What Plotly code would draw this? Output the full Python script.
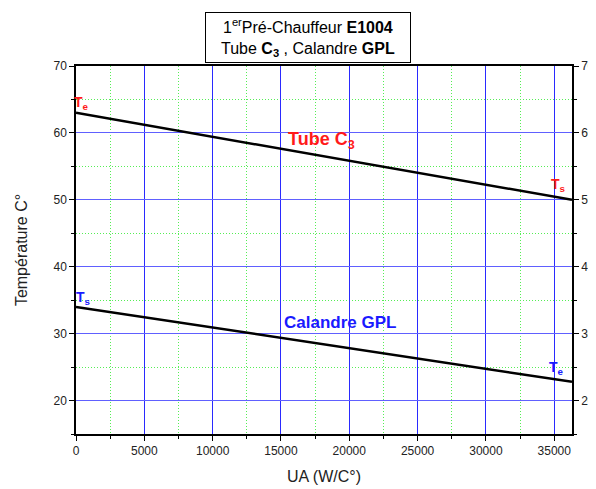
import plotly.graph_objects as go

ua = [0, 36300]
tube_c3 = [63.0, 50.0]
calandre_gpl = [34.0, 22.8]

x_ticks = [0, 5000, 10000, 15000, 20000, 25000, 30000, 35000]
x_tick_labels = ["0", "5000", "10000", "15000", "20000", "25000", "30000", "35000"]
y_ticks = [20, 30, 40, 50, 60, 70]
y_tick_labels = ["20", "30", "40", "50", "60", "70"]

fig = go.Figure()
fig.add_trace(go.Scatter(x=ua, y=tube_c3, mode="lines", line=dict(color="black", width=2.5), showlegend=False))
fig.add_trace(go.Scatter(x=ua, y=calandre_gpl, mode="lines", line=dict(color="black", width=2.5), showlegend=False))
fig.add_trace(go.Scatter(x=ua, y=tube_c3, mode="lines", line=dict(width=0), opacity=0, yaxis="y2", showlegend=False, hoverinfo="skip"))

font = dict(family="Arial, Liberation Sans, sans-serif", size=12, color="#222")

# page body has an 8px default margin, so the figure is 8px smaller
fig.update_layout(
    width=588, height=481,
    margin=dict(l=68, r=24, t=58, b=55),
    paper_bgcolor="white", plot_bgcolor="white",
    font=font,
    xaxis=dict(range=[0, 36300], tickvals=x_ticks, ticktext=x_tick_labels, ticks="outside", ticklen=5, tickcolor="black",
               showline=True, linecolor="black", linewidth=1.5, mirror=True, automargin=False,
               showgrid=True, gridcolor="#2a2aff", gridwidth=1, zeroline=False,
               minor=dict(dtick=2500, tick0=0, ticks="outside", ticklen=3, tickcolor="black",
                          showgrid=True, gridcolor="#55ee55", griddash="1px,2px", gridwidth=1),
               title=dict(text="UA (W/C°)", font=dict(size=16), standoff=14)),
    yaxis=dict(range=[15, 70], tickvals=y_ticks, ticktext=y_tick_labels, ticks="outside", ticklen=5, tickcolor="black",
               showline=True, linecolor="black", linewidth=1.5, automargin=False,
               showgrid=True, gridcolor="#6060ff", gridwidth=1, zeroline=False,
               minor=dict(dtick=5, tick0=15, ticks="outside", ticklen=3, tickcolor="black",
                          showgrid=True, gridcolor="#55ee55", griddash="1px,2px", gridwidth=1),
               title=dict(text="Température C°", font=dict(size=16), standoff=22)),
    yaxis2=dict(range=[15, 70], tickvals=y_ticks, ticktext=y_tick_labels, overlaying="y", side="right", ticks="outside",
                ticklen=5, tickcolor="black", showline=True, linecolor="black", linewidth=1.5,
                showgrid=False, zeroline=False, automargin=False,
                minor=dict(dtick=5, tick0=15, ticks="outside", ticklen=3, tickcolor="black")),
)

red = "#ff1a1a"
blue = "#1a1aff"
ann = [
    dict(x=420, y=64.4, text="<b>T<sub>e</sub></b>", font=dict(color=red, size=14)),
    dict(x=35300, y=52.2, text="<b>T<sub>s</sub></b>", font=dict(color=red, size=14)),
    dict(x=17990, y=58.8, text="<b>Tube C<sub>3</sub></b>", font=dict(color=red, size=18)),
    dict(x=19300, y=31.6, text="<b>Calandre GPL</b>", font=dict(color=blue, size=17)),
    dict(x=560, y=35.3, text="<b>T<sub>s</sub></b>", font=dict(color=blue, size=14)),
    dict(x=35150, y=24.9, text="<b>T<sub>e</sub></b>", font=dict(color=blue, size=14)),
]
for a in ann:
    fig.add_annotation(xref="x", yref="y", showarrow=False, **a)

fig.add_annotation(xref="paper", yref="paper", x=0.468, y=1, yshift=3, yanchor="bottom",
                   showarrow=False, align="center", width=198,
                   text="1<sup>er</sup>Pré-Chauffeur <b>E1004</b><br>Tube <b>C<sub>3</sub></b> , Calandre <b>GPL</b>",
                   font=dict(size=16, color="black"), bordercolor="black", borderwidth=1,
                   borderpad=3, bgcolor="white")

fig.write_html("out.html")
